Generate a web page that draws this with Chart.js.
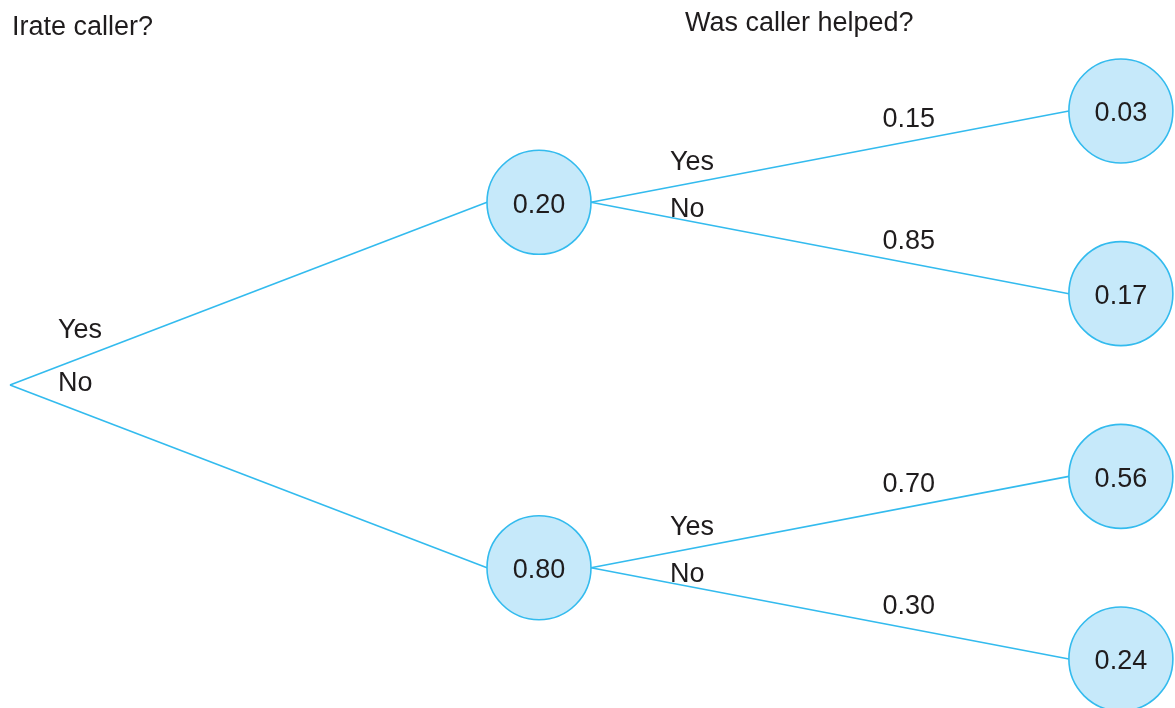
<!DOCTYPE html>
<html lang="en">
<head>
    <meta charset="UTF-8">
    <title>Irate caller probability tree</title>
    <script src="https://cdn.jsdelivr.net/npm/chart.js"></script>
    <style>
        body { margin: 0; background: #fff; }
        #treeChart { display: block; }
    </style>
</head>
<body>
    <canvas id="treeChart" width="1175" height="708"></canvas>
    <script>
        // data
        const stageTitles = ['Irate caller?', 'Was caller helped?'];
        const branchNames = ['Yes', 'No'];
        const irateProb = [0.20, 0.80];
        const helpedProb = [[0.15, 0.85], [0.70, 0.30]];
        const jointProb = [0.03, 0.17, 0.56, 0.24];
        const stageX = [0, 1, 2.1];

        const X_MIN = -0.0189, X_MAX = 2.2023;
        const NODE_R = 52;
        // circle radius in x units, so edges meet the circles at their left/right side
        const rUnits = NODE_R * (X_MAX - X_MIN) / 1175;

        const LINE = '#33bbee';
        const FILL = '#c6e9fa';
        const TEXT = '#1f1c1d';
        const FONT = '27px Arial, "Liberation Sans", sans-serif';

        // tree layout: leaves in slots 0..3, parents in the middle of their children
        const leaves = jointProb.map((p, i) => ({ x: stageX[2], y: i, label: p.toFixed(2), r: rUnits }));
        const mids = irateProb.map((p, i) => ({
            x: stageX[1], y: (leaves[i * 2].y + leaves[i * 2 + 1].y) / 2, label: p.toFixed(2), r: rUnits
        }));
        const root = { x: stageX[0], y: (mids[0].y + mids[1].y) / 2, r: 0 };

        const edges = [];
        mids.forEach((m, i) => {
            edges.push({ from: root, to: m, name: branchNames[i], stage: 0 });
        });
        mids.forEach((m, i) => {
            helpedProb[i].forEach((p, j) => {
                edges.push({ from: m, to: leaves[i * 2 + j], name: branchNames[j], prob: p.toFixed(2), stage: 1 });
            });
        });

        const edgeSets = edges.map(e => ({
            type: 'scatter',
            data: [{ x: e.from.x + e.from.r, y: e.from.y }, { x: e.to.x - e.to.r, y: e.to.y }],
            showLine: true,
            borderColor: LINE,
            borderWidth: 1.6,
            pointRadius: 0,
            clip: false,
            order: 2
        }));

        const nodeSet = {
            type: 'scatter',
            data: mids.concat(leaves).map(n => ({ x: n.x, y: n.y })),
            pointRadius: NODE_R,
            pointHoverRadius: NODE_R,
            backgroundColor: FILL,
            borderColor: LINE,
            borderWidth: 1.6,
            clip: false,
            order: 1
        };

        const treeText = {
            id: 'treeText',
            afterDatasetsDraw(chart) {
                const ctx = chart.ctx;
                const sx = chart.scales.x, sy = chart.scales.y;
                ctx.save();
                ctx.font = FONT;
                ctx.fillStyle = TEXT;
                ctx.textBaseline = 'middle';

                // stage titles
                ctx.textAlign = 'left';
                ctx.fillText(stageTitles[0], 12, 28);
                ctx.fillText(stageTitles[1], 685, 24);

                // node values
                ctx.textAlign = 'center';
                mids.concat(leaves).forEach(n => ctx.fillText(n.label, sx.getPixelForValue(n.x), sy.getPixelForValue(n.y) + 3));

                // branch names and probabilities
                edges.forEach(e => {
                    const x0 = sx.getPixelForValue(e.from.x + e.from.r), y0 = sy.getPixelForValue(e.from.y);
                    const x1 = sx.getPixelForValue(e.to.x - e.to.r), y1 = sy.getPixelForValue(e.to.y);
                    const up = e.name === 'Yes';
                    ctx.textAlign = 'left';
                    if (e.stage === 0) {
                        ctx.fillText(e.name, x0 + 48, up ? y0 - 54 : y0 - 1);
                    } else {
                        ctx.fillText(e.name, x0 + 79, up ? y0 - 40 : y0 + 7);
                        const t = 0.665;
                        ctx.textAlign = 'center';
                        ctx.fillText(e.prob, x0 + (x1 - x0) * t, y0 + (y1 - y0) * t - 22);
                    }
                });
                ctx.restore();
            }
        };

        new Chart(document.getElementById('treeChart'), {
            type: 'scatter',
            data: { datasets: [nodeSet].concat(edgeSets) },
            options: {
                responsive: false,
                animation: false,
                layout: { padding: 0, autoPadding: false },
                plugins: { legend: { display: false }, tooltip: { enabled: false } },
                scales: {
                    x: { type: 'linear', display: false, min: X_MIN, max: X_MAX },
                    y: { type: 'linear', display: false, reverse: true, min: -0.6075, max: 3.268 }
                }
            },
            plugins: [treeText]
        });
    </script>
</body>
</html>
